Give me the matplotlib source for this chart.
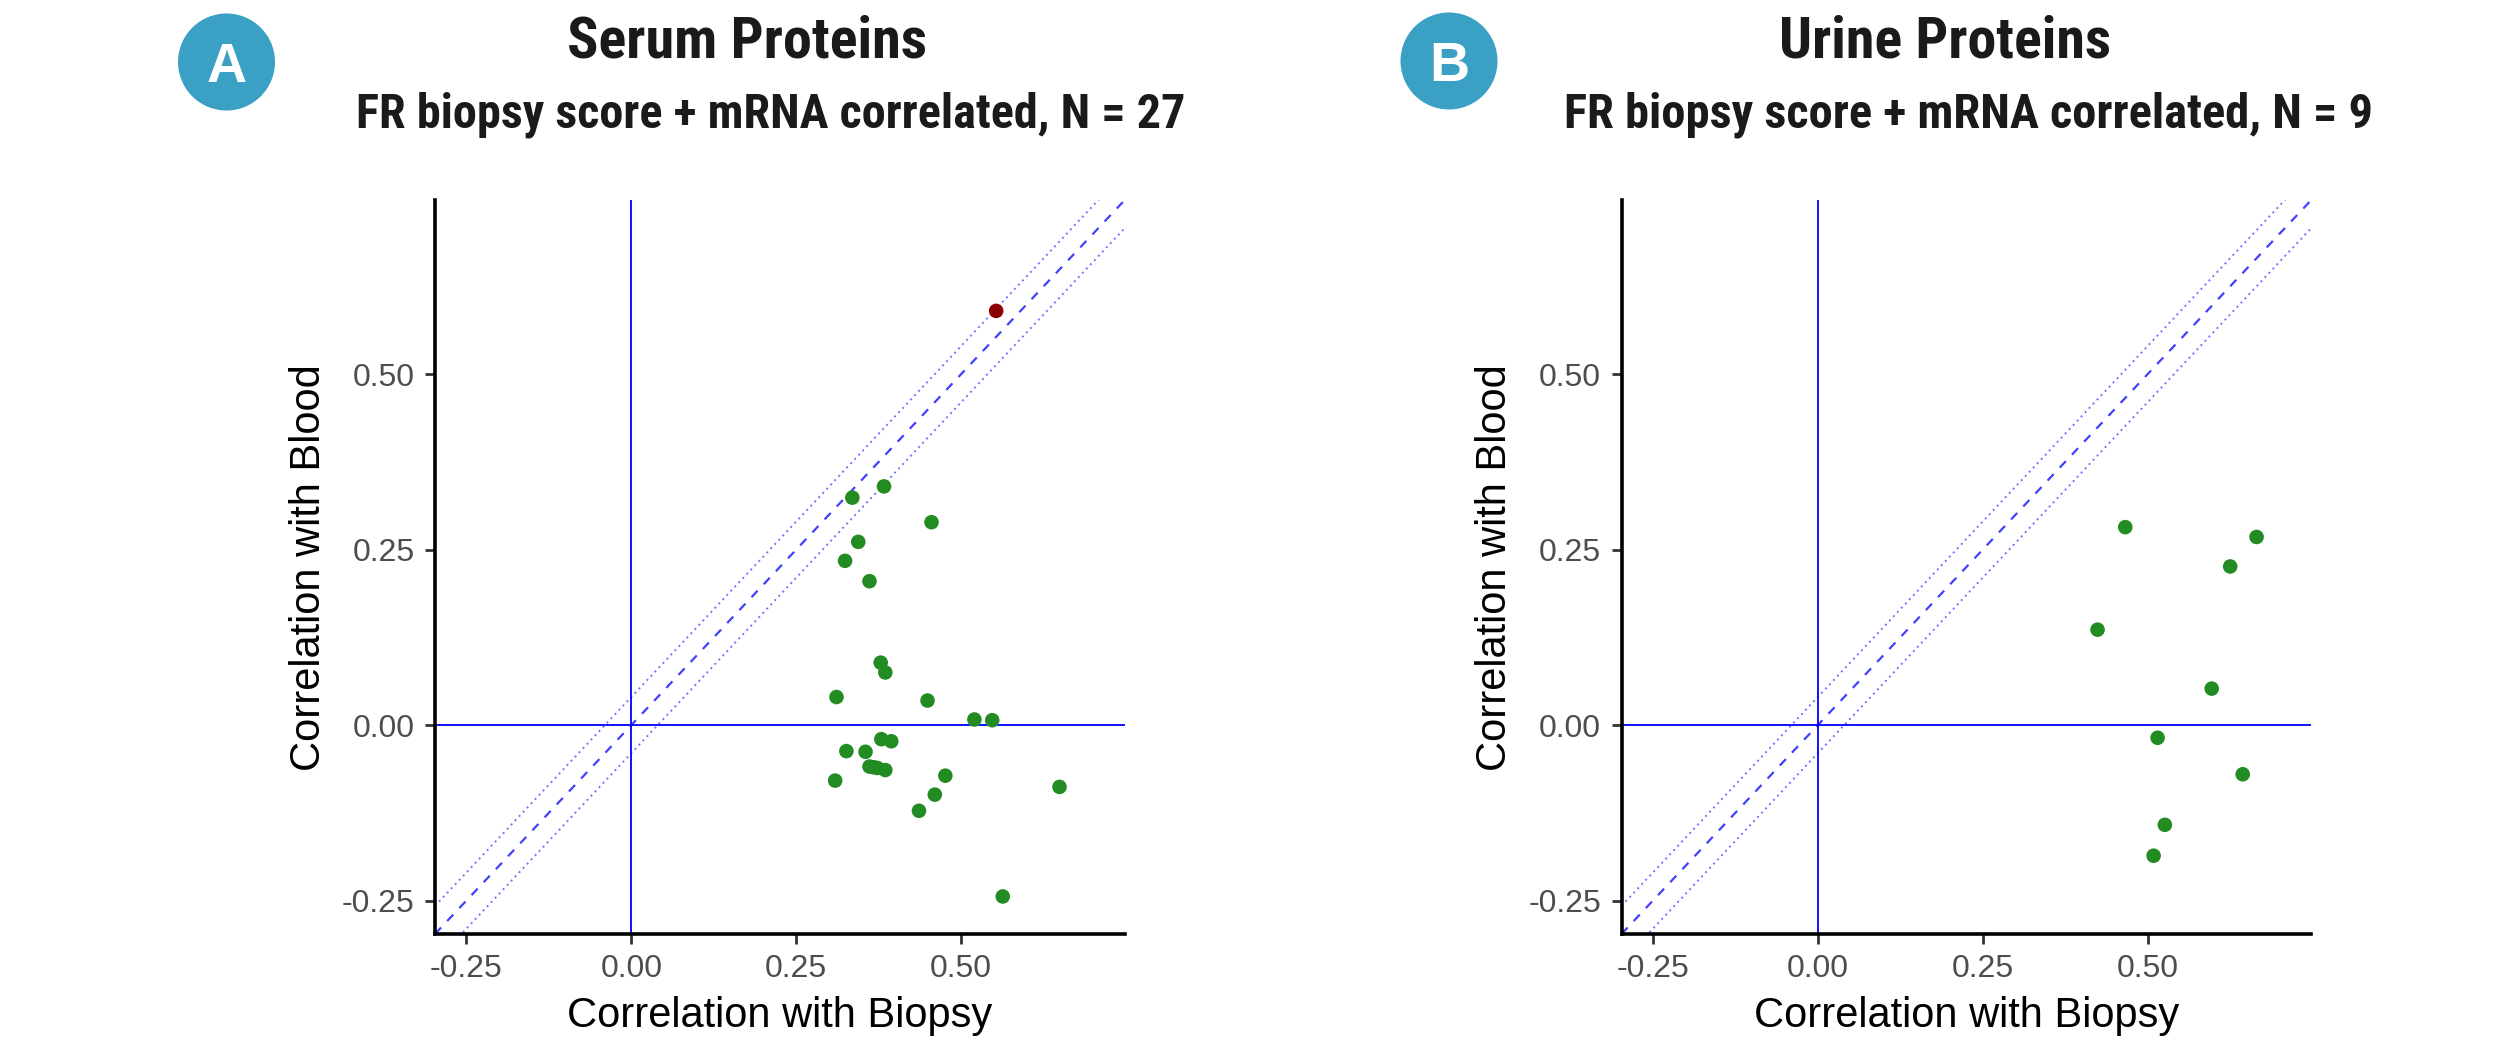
import matplotlib
matplotlib.use("Agg")
import matplotlib.pyplot as plt
from matplotlib.patches import Ellipse
from matplotlib import font_manager

# ---------------- data ----------------
serum_biopsy = [0.383, 0.335, 0.455, 0.344, 0.324, 0.361, 0.378, 0.385, 0.311,
                0.449, 0.520, 0.547, 0.379, 0.394, 0.326, 0.355, 0.361, 0.373,
                0.385, 0.309, 0.476, 0.649, 0.460, 0.436, 0.563, 0.367]
serum_blood = [0.340, 0.324, 0.289, 0.261, 0.234, 0.205, 0.089, 0.075, 0.040,
               0.035, 0.008, 0.007, -0.020, -0.023, -0.037, -0.038, -0.059, -0.061,
               -0.064, -0.079, -0.072, -0.088, -0.099, -0.122, -0.244, -0.060]
serum_hit_biopsy = [0.553]
serum_hit_blood = [0.590]

urine_biopsy = [0.466, 0.665, 0.625, 0.424, 0.597, 0.515, 0.644, 0.526, 0.509]
urine_blood = [0.282, 0.268, 0.226, 0.136, 0.052, -0.018, -0.070, -0.142, -0.186]

ticks = [-0.25, 0.00, 0.25, 0.50]
tick_labels = ["-0.25", "0.00", "0.25", "0.50"]
panel_titles = ["Serum Proteins", "Urine Proteins"]
panel_subtitles = ["FR biopsy score + mRNA correlated, N = 27",
                   "FR biopsy score + mRNA correlated, N = 9"]
panel_letters = ["A", "B"]
band = 0.04

# ---------------- style ----------------
W, H = 2516, 1050
ttf = font_manager.fontManager.ttflist
candidates = ["Liberation Sans Narrow", "Arial Narrow", "Roboto Condensed", "PT Sans Narrow",
              "Open Sans Condensed", "Archivo Narrow", "Asap Condensed", "Barlow Semi Condensed"]
narrow = "Liberation Sans"
for c in candidates:
    if any(f.name == c and f.weight in (700, "bold") for f in ttf):
        narrow = c
        break
base = "Liberation Sans"

fig = plt.figure(figsize=(W / 100, H / 100), dpi=100)
fig.patch.set_facecolor("white")
renderer = fig.canvas.get_renderer()


def fx(x):
    return x / W


def fy(y):
    return 1 - y / H


def fit_text(x, y, s, target_w, size0, **kw):
    t = fig.text(x, y, s, fontsize=size0, **kw)
    w = t.get_window_extent(renderer=renderer).width
    t.set_fontsize(size0 * target_w / w)
    return t


lim = (-0.2975, 0.7475)
ax_left_px = [435, 1621.5]
ax_w_px, ax_top_px, ax_bot_px = 689.5, 200.3, 934
title_cx = [747, 1945]
sub_cx = [771, 1968.6]
title_w = [360, 332]
sub_w = [831, 809]
circle_c = [(226.5, 62), (1449, 61)]

panels = [
    (serum_biopsy, serum_blood, serum_hit_biopsy, serum_hit_blood),
    (urine_biopsy, urine_blood, [], []),
]

for i, (xb, yb, xr, yr) in enumerate(panels):
    left = ax_left_px[i]
    ax = fig.add_axes([fx(left), fy(ax_bot_px), ax_w_px / W, (ax_bot_px - ax_top_px) / H])
    ax.set_xlim(lim)
    ax.set_ylim(lim)
    for s in ["top", "right"]:
        ax.spines[s].set_visible(False)
    for s in ["left", "bottom"]:
        ax.spines[s].set_linewidth(2.6)
        ax.spines[s].set_color("black")
    ax.set_xticks(ticks)
    ax.set_xticklabels(tick_labels)
    ax.set_yticks(ticks)
    ax.set_yticklabels(tick_labels)
    ax.tick_params(length=7.2, width=2.0, color="#333333", labelsize=23,
                   labelcolor="#4D4D4D", pad=7.5)
    for lab in ax.get_xticklabels() + ax.get_yticklabels():
        lab.set_fontfamily(base)

    xx = [lim[0], lim[1]]
    ax.plot(xx, [v + band for v in xx], color="#0000FF", lw=1.4, ls=(0, (1, 2.0)), alpha=0.55, zorder=1)
    ax.plot(xx, [v - band for v in xx], color="#0000FF", lw=1.4, ls=(0, (1, 2.0)), alpha=0.55, zorder=1)
    ax.plot(xx, xx, color="#0000FF", lw=1.6, ls=(0, (4, 4)), alpha=0.75, zorder=1)
    ax.axvline(0, color="#0000FF", lw=1.3, zorder=1.5)
    ax.axhline(0, color="#0000FF", lw=1.3, zorder=1.5)

    ax.scatter(xb, yb, s=110, color="#228B22", edgecolors="none", zorder=3)
    if xr:
        ax.scatter(xr, yr, s=110, color="#8B0000", edgecolors="none", zorder=4)

    cx_axes = left + ax_w_px / 2
    fig.text(fx(cx_axes), fy(1027), "Correlation with Biopsy", ha="center", va="baseline",
             fontsize=30, family=base, color="black")
    fig.text(fx(left - 115), fy((ax_top_px + ax_bot_px) / 2), "Correlation with Blood",
             ha="center", va="baseline", rotation=90, rotation_mode="anchor",
             fontsize=30, family=base, color="black")

    fit_text(fx(title_cx[i]), fy(57), panel_titles[i], title_w[i], 42, ha="center",
             va="baseline", fontweight="bold", family=narrow, color="#1a1a1a")
    fit_text(fx(sub_cx[i]), fy(127), panel_subtitles[i], sub_w[i], 35, ha="center",
             va="baseline", fontweight="bold", family=narrow, color="#1a1a1a")

    ccx, ccy = circle_c[i]
    fig.add_artist(Ellipse((fx(ccx), fy(ccy)), 97 / W, 97 / H, transform=fig.transFigure,
                           facecolor="#3AA0C4", edgecolor="none"))
    fig.text(fx(ccx), fy(ccy + 20), panel_letters[i], ha="center", va="baseline",
             fontsize=40, fontweight="bold", family=base, color="white")

fig.savefig("out.png", dpi=100, facecolor="white")
